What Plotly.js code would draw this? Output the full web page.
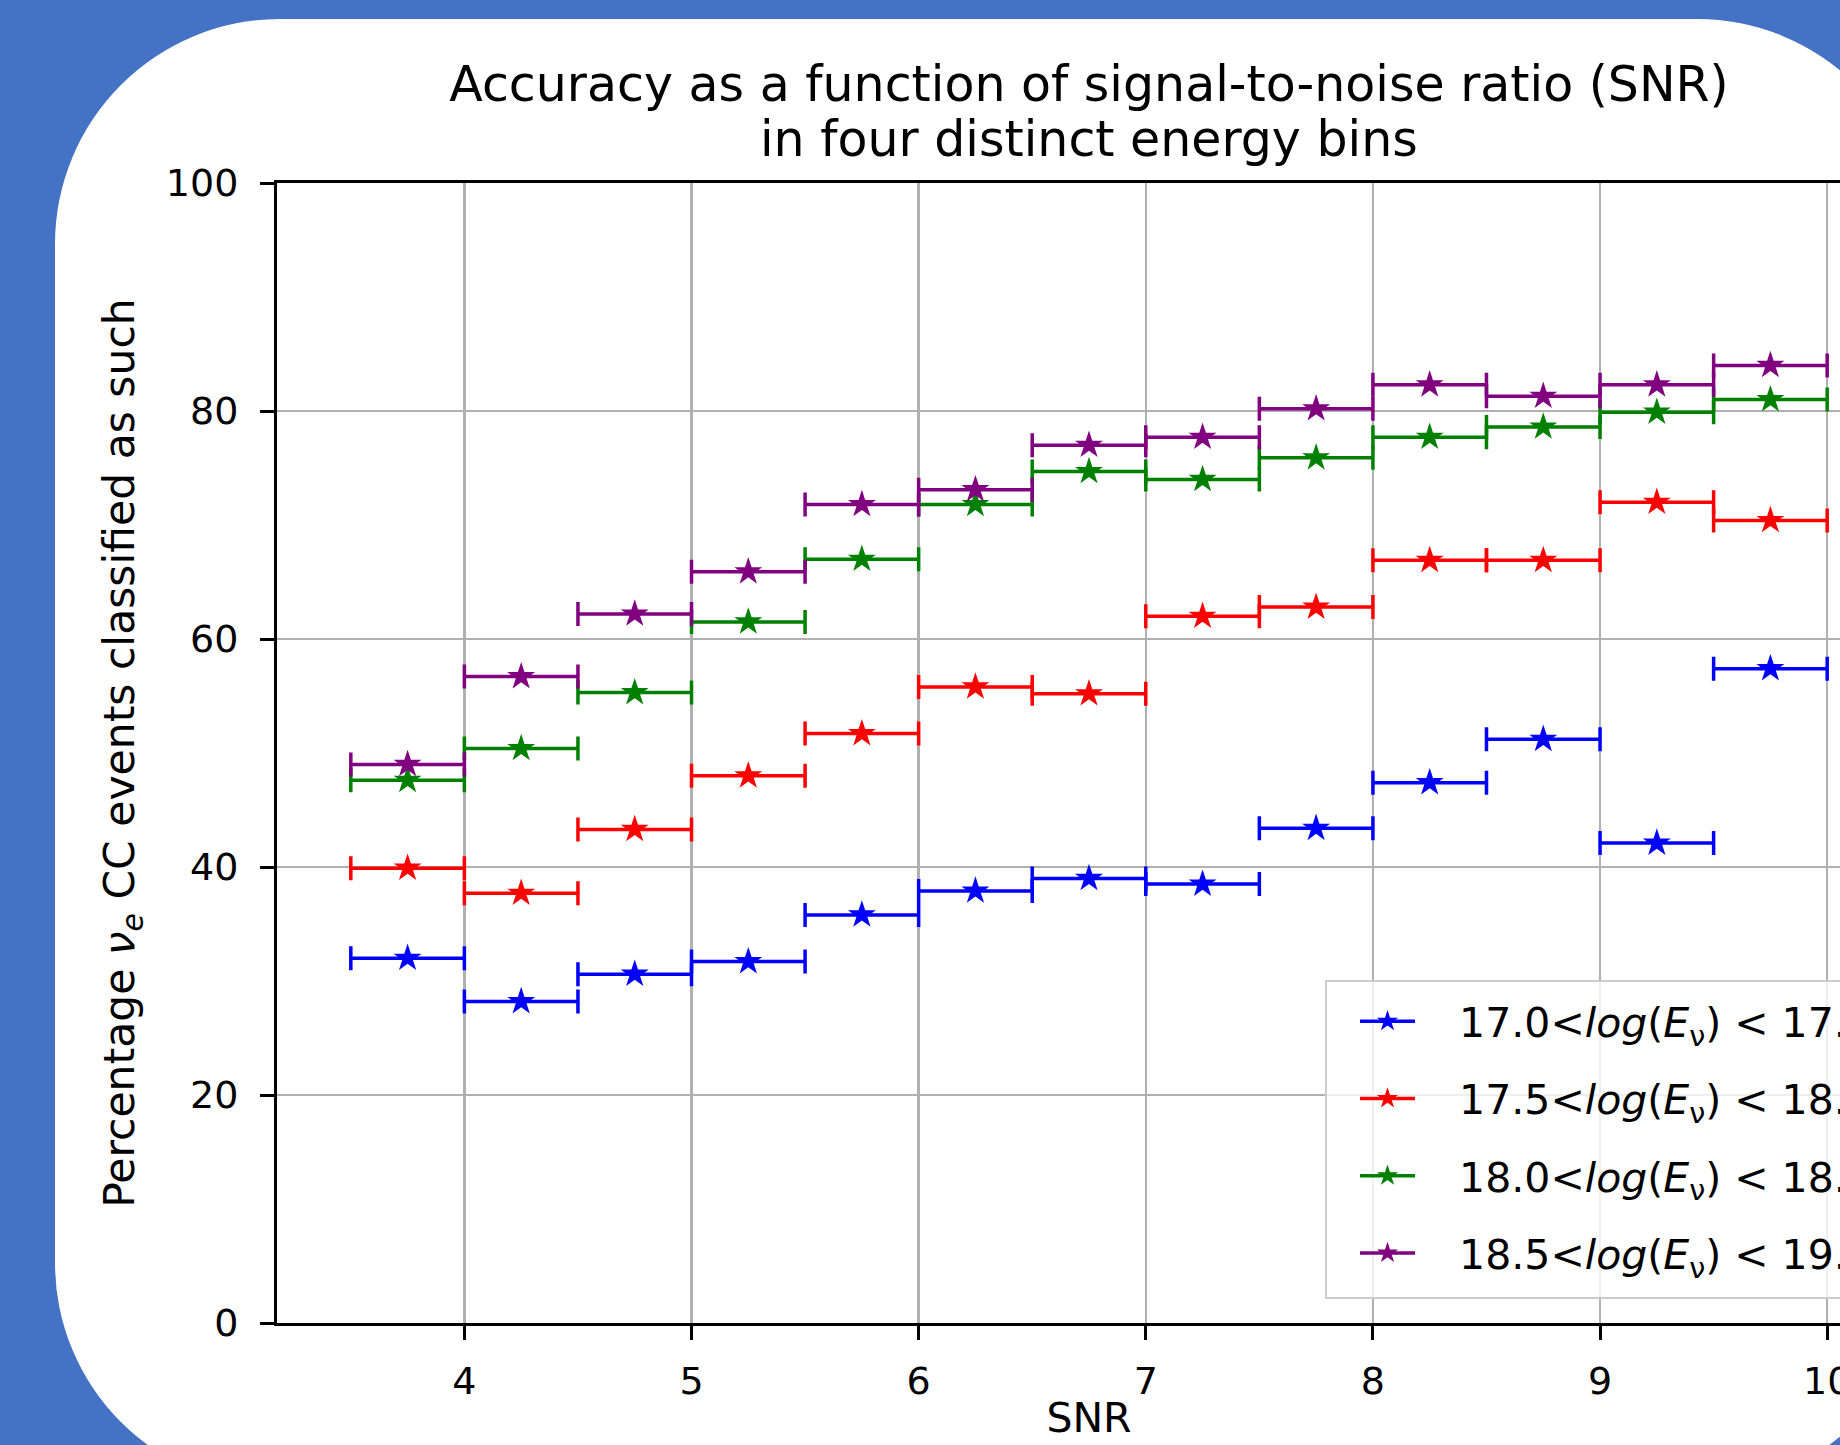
<!DOCTYPE html>
<html>
<head>
<meta charset="utf-8">
<script src="https://cdn.plot.ly/plotly-3.0.1.min.js"></script>
<style>
  html, body { margin: 0; padding: 0; width: 1840px; height: 1445px; overflow: hidden; background: #4472C4; }
  #panel { position: absolute; left: 55px; top: 19px; width: 1867px; height: 1469px; background: #ffffff; border-radius: 225px; }
  #chart { position: absolute; left: 0; top: 0; width: 1960px; height: 1485px; }
</style>
</head>
<body>
<div id="panel"></div>
<div id="chart"></div>
<script>
// SNR bin centres and half-widths
const snrCenters = [3.75, 4.25, 4.75, 5.25, 5.75, 6.25, 6.75, 7.25, 7.75, 8.25, 8.75, 9.25, 9.75];
const snrHalfWidth = [0.25, 0.25, 0.25, 0.25, 0.25, 0.25, 0.25, 0.25, 0.25, 0.25, 0.25, 0.25, 0.25];

// Percentage of nu_e CC events classified as such, per energy bin
const bin170to175 = [32.0, 28.2, 30.6, 31.7, 35.8, 37.9, 39.0, 38.5, 43.4, 47.4, 51.2, 42.1, 57.4];
const bin175to180 = [39.9, 37.7, 43.3, 48.0, 51.7, 55.8, 55.2, 62.0, 62.8, 66.9, 66.9, 72.0, 70.4];
const bin180to185 = [47.6, 50.4, 55.3, 61.5, 67.0, 71.8, 74.7, 74.0, 75.9, 77.7, 78.6, 79.9, 81.0];
const bin185to190 = [49.0, 56.7, 62.2, 65.9, 71.8, 73.1, 77.0, 77.7, 80.2, 82.3, 81.3, 82.3, 84.0];

const seriesNames = [
  '17.0&lt;<i>log</i>(<i>E</i><sub>ν</sub>) &lt; 17.5',
  '17.5&lt;<i>log</i>(<i>E</i><sub>ν</sub>) &lt; 18.0',
  '18.0&lt;<i>log</i>(<i>E</i><sub>ν</sub>) &lt; 18.5',
  '18.5&lt;<i>log</i>(<i>E</i><sub>ν</sub>) &lt; 19.0'
];
const seriesValues = [bin170to175, bin175to180, bin180to185, bin185to190];
const seriesColors = ['#0000ff', '#ff0000', '#008000', '#800080'];

const yTicks = [0, 20, 40, 60, 80, 100];
const xTicks = [4, 5, 6, 7, 8, 9, 10];

const titleLine1 = 'Accuracy as a function of signal-to-noise ratio (SNR)';
const titleLine2 = 'in four distinct energy bins';
const xLabel = 'SNR';
const yLabel = 'Percentage <i>ν</i><sub><i>e</i></sub> CC events classified as such';

const FONT = 'DejaVu Sans, Verdana, sans-serif';
const LEGEND_PAD = '&nbsp;&nbsp;&nbsp;';
const H = 1485;

const traces = [];
seriesValues.forEach((vals, i) => {
  traces.push({
    type: 'scatter', mode: 'markers', x: snrCenters, y: vals,
    name: seriesNames[i], showlegend: false, legendgroup: 'g' + i,
    marker: { symbol: 'star', size: 21, color: seriesColors[i] },
    error_x: { type: 'data', array: snrHalfWidth, symmetric: true, color: seriesColors[i], thickness: 3.5, width: 12 },
    cliponaxis: false
  });
});
// legend entries (icon: bar + star, as in the original errorbar legend)
seriesValues.forEach((vals, i) => {
  traces.push({
    type: 'scatter', mode: 'lines+markers', x: [null], y: [null],
    name: LEGEND_PAD + seriesNames[i], showlegend: true, legendgroup: 'g' + i,
    marker: { symbol: 'star', size: 19, color: seriesColors[i] },
    line: { color: seriesColors[i], width: 3.5 }
  });
});

const layout = {
  width: 1960, height: H,
  margin: { l: 277, r: 59, t: 183, b: H - 1323, pad: 0 },
  paper_bgcolor: 'rgba(0,0,0,0)',
  plot_bgcolor: '#ffffff',
  font: { family: FONT, size: 41, color: '#000000' },
  title: {
    text: titleLine1, font: { family: FONT, size: 49, color: '#000000' },
    xref: 'paper', x: 0.5, xanchor: 'center',
    yref: 'container', y: 1 - 84 / H, yanchor: 'middle'
  },
  annotations: [{
    text: titleLine2, showarrow: false, font: { family: FONT, size: 49, color: '#000000' },
    xref: 'paper', x: 0.5, xanchor: 'center',
    yref: 'paper', y: (1323 - 139) / 1140, yanchor: 'middle'
  }],
  // legend frame (matplotlib-style box, semi-transparent white)
  shapes: [{
    type: 'rect', xref: 'paper', yref: 'paper', layer: 'above',
    x0: (1326 - 277) / 1624, x1: (1881 - 277) / 1624,
    y0: (1323 - 1298) / 1140, y1: (1323 - 981) / 1140,
    fillcolor: 'rgba(255,255,255,0.8)', line: { color: '#cccccc', width: 2 }
  }],
  xaxis: {
    range: [3.175, 10.325], tickvals: xTicks, ticktext: xTicks.map(String),
    showgrid: true, gridcolor: '#b0b0b0', gridwidth: 2.5, zeroline: false,
    showline: true, linecolor: '#000000', linewidth: 3, mirror: true,
    ticks: 'outside', ticklen: 14, tickwidth: 3, tickcolor: '#000000',
    tickfont: { family: FONT, size: 38, color: '#000000' },
    ticklabelstandoff: 8,
    title: { text: xLabel, font: { family: FONT, size: 41, color: '#000000' }, standoff: 2 }
  },
  yaxis: {
    range: [0, 100], tickvals: yTicks, ticktext: yTicks.map(String),
    showgrid: true, gridcolor: '#b0b0b0', gridwidth: 2.5, zeroline: false,
    showline: true, linecolor: '#000000', linewidth: 3, mirror: true,
    ticks: 'outside', ticklen: 14, tickwidth: 3, tickcolor: '#000000',
    tickfont: { family: FONT, size: 38, color: '#000000' },
    ticklabelstandoff: 14,
    title: { text: yLabel, font: { family: FONT, size: 42.5, color: '#000000' }, standoff: 18 }
  },
  showlegend: true,
  legend: {
    x: (1328 - 277) / 1624, xanchor: 'left',
    y: (1323 - 1287) / 1140, yanchor: 'bottom',
    bgcolor: 'rgba(0,0,0,0)', borderwidth: 0,
    font: { family: FONT, size: 41, color: '#000000' },
    itemwidth: 55, tracegroupgap: 21, indentation: 27,
    traceorder: 'grouped'
  }
};

Plotly.newPlot('chart', traces, layout, { displayModeBar: false, staticPlot: true });
</script>
</body>
</html>
